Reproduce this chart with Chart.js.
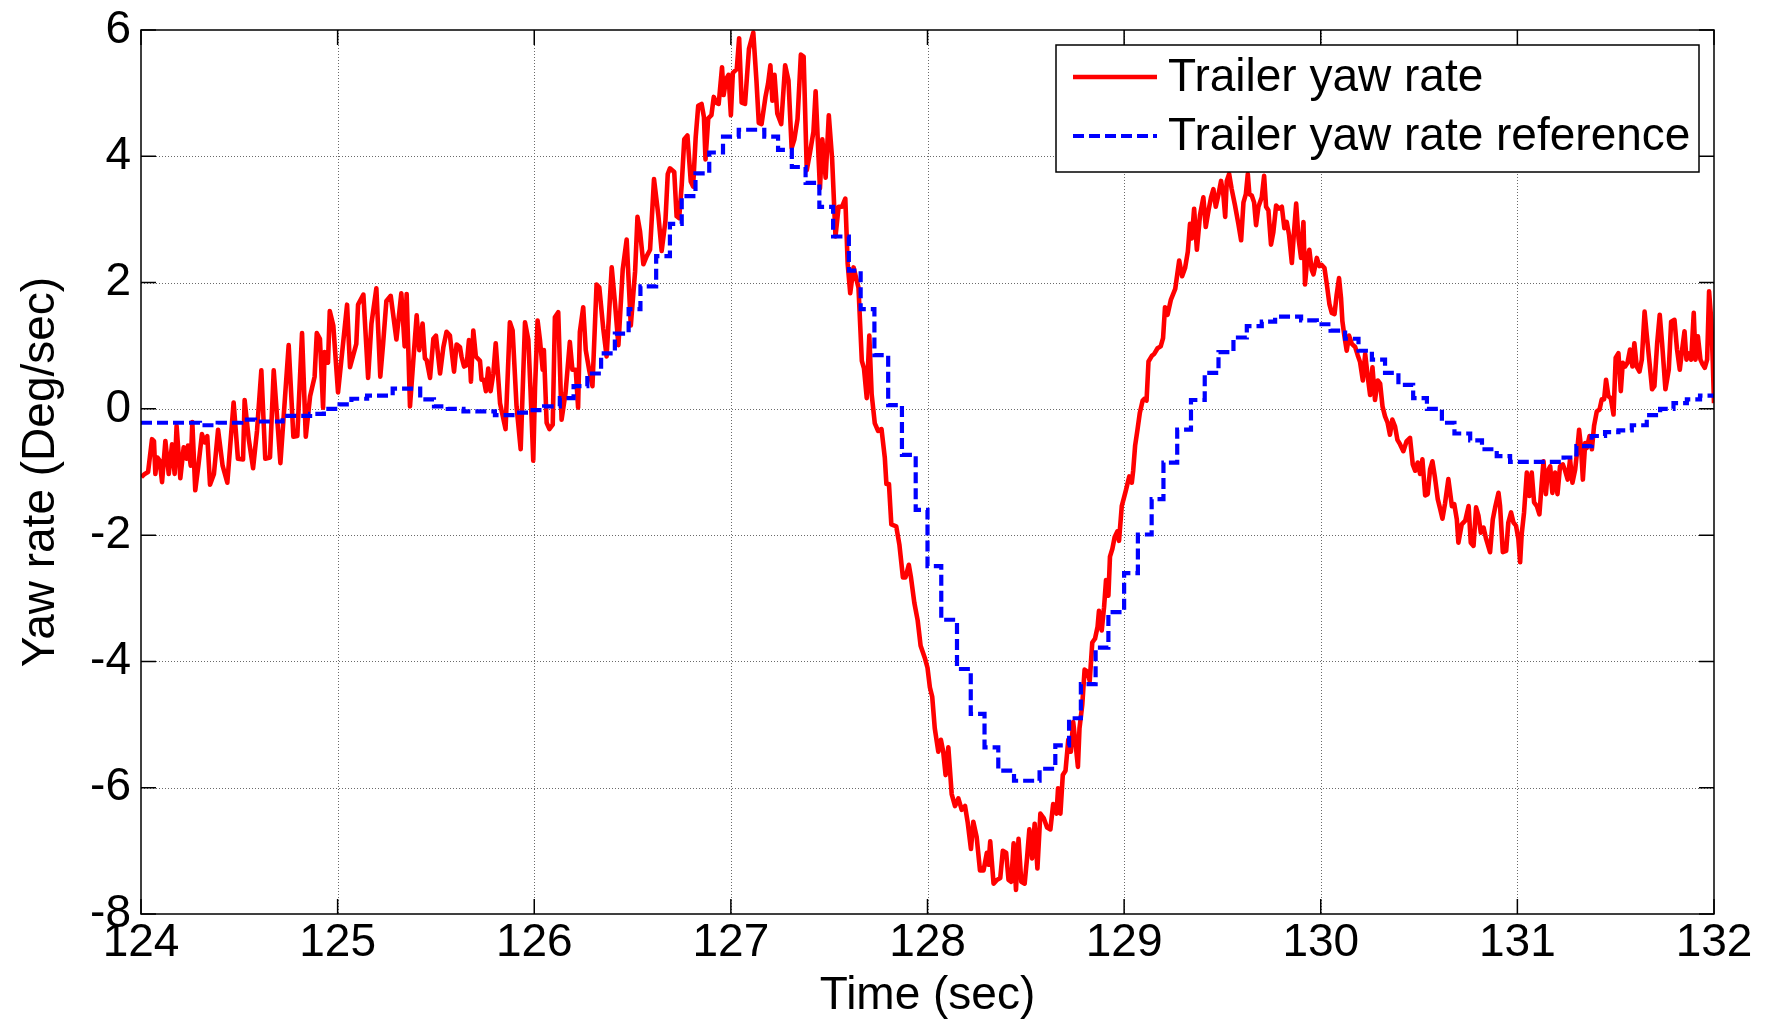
<!DOCTYPE html>
<html>
<head>
<meta charset="utf-8">
<title>Trailer yaw rate</title>
<script src="https://cdn.jsdelivr.net/npm/chart.js@4.4.1/dist/chart.umd.min.js"></script>
<style>
  html, body { margin: 0; padding: 0; background: #ffffff; }
  #wrap { position: relative; width: 1767px; height: 1021px; }
</style>
</head>
<body>
<div id="wrap"><canvas id="yaw" width="1767" height="1021"></canvas></div>
<script>
// Measured trailer yaw rate (deg/s) against time (s)
const redTime = [
  124.002,124.019,124.036,124.056,124.066,124.073,124.083,124.095,124.107,124.124,124.141,124.158,124.171,124.181,124.200,124.217,124.231,124.239,124.253,124.261,
  124.276,124.293,124.310,124.324,124.337,124.351,124.371,124.392,124.415,124.439,124.471,124.493,124.519,124.527,124.548,124.570,124.590,124.612,124.632,124.656,
  124.675,124.709,124.751,124.775,124.795,124.819,124.838,124.860,124.883,124.894,124.910,124.926,124.934,124.951,124.960,124.978,125.002,125.048,125.063,125.095,
  125.104,125.131,125.155,125.172,125.197,125.217,125.231,125.248,125.270,125.299,125.324,125.341,125.351,
  125.368,125.385,125.402,125.415,125.432,125.444,125.453,125.470,125.487,125.500,125.521,125.538,125.554,125.571,125.592,125.605,125.622,125.630,125.643,125.656,
  125.668,125.678,125.690,125.703,125.724,125.732,125.744,125.754,125.766,125.778,125.792,125.804,125.826,125.854,125.876,125.890,125.910,125.931,125.953,125.970,
  125.981,125.995,126.004,126.017,126.029,126.043,126.049,126.063,126.077,126.094,126.105,126.122,126.139,126.159,126.181,126.194,126.211,126.223,126.232,126.249,
  126.262,126.279,126.296,126.317,126.331,126.351,126.368,126.394,126.411,126.428,126.450,126.470,126.491,126.513,126.525,126.538,126.555,126.572,126.589,126.609,
  126.631,126.648,
  126.667,126.679,126.690,126.712,126.724,126.737,126.750,126.763,126.779,126.796,126.808,126.821,126.834,126.851,126.863,126.871,126.885,126.901,126.913,126.925,
  126.938,126.955,126.963,126.977,126.988,127.000,127.010,127.030,127.042,127.055,127.072,127.092,127.114,127.130,127.142,127.156,127.176,127.189,127.201,127.211,
  127.222,127.236,127.256,127.276,127.293,127.309,127.323,127.339,127.356,127.370,127.386,127.403,127.420,127.431,127.453,127.465,127.482,127.498,127.515,127.532,
  127.548,127.565,127.582,127.594,127.607,127.624,127.649,127.666,127.677,127.691,127.704,127.716,127.732,127.749,127.766,127.783,127.791,127.804,127.816,127.841,
  127.857,127.875,127.888,127.905,127.916,127.933,127.950,127.965,
  127.986,128.000,128.012,128.024,128.037,128.055,128.068,128.080,128.092,128.106,128.123,128.140,128.157,128.174,128.191,128.204,128.221,128.233,128.250,128.267,
  128.285,128.302,128.310,128.319,128.336,128.353,128.370,128.383,128.400,128.412,128.426,128.438,128.450,128.463,128.477,128.494,128.506,128.518,128.532,128.545,
  128.559,128.574,128.591,128.608,128.625,128.639,128.656,128.664,128.676,128.688,128.702,128.716,128.729,128.741,128.753,128.765,128.773,128.787,128.799,128.813,
  128.825,128.838,128.852,128.865,128.872,128.886,128.898,128.908,128.920,128.928,128.940,128.952,128.966,128.974,128.988,129.009,129.026,129.039,129.046,129.056,
  129.068,129.080,129.094,129.104,129.114,129.124,129.141,129.153,129.170,129.186,129.198,129.208,129.221,129.238,129.260,129.280,129.295,
  129.310,129.324,129.335,129.344,129.356,129.370,129.386,129.403,129.415,129.429,129.442,129.454,129.466,129.480,129.493,129.505,129.514,129.522,129.534,129.547,
  129.564,129.581,129.595,129.607,129.619,129.629,129.637,129.649,129.661,129.671,129.683,129.700,129.712,129.722,129.734,129.747,129.759,129.773,129.788,129.802,
  129.815,129.827,129.839,129.853,129.864,129.875,129.887,129.900,129.912,129.920,129.932,129.942,129.954,129.963,129.980,129.993,130.005,130.019,130.031,130.044,
  130.056,130.070,130.081,130.093,130.103,130.110,130.120,130.132,130.144,130.158,130.175,130.188,130.200,130.214,130.226,130.239,130.251,130.263,130.276,130.290,
  130.302,130.314,130.327,130.340,130.352,130.364,130.378,130.390,130.403,130.420,130.437,130.454,130.468,130.480,130.493,130.505,130.517,130.531,130.544,130.556,
  130.568,130.581,130.595,130.607,130.619,130.632,130.649,
  130.667,130.679,130.692,130.700,130.717,130.735,130.752,130.763,130.777,130.790,130.802,130.814,130.828,130.841,130.861,130.875,130.887,130.904,130.912,130.926,
  130.943,130.954,130.968,130.980,130.993,131.005,131.014,131.022,131.034,131.048,131.061,131.073,131.085,131.099,131.112,131.124,131.133,131.145,131.155,131.167,
  131.178,131.192,131.204,131.217,131.231,131.243,131.256,131.268,131.280,131.294,131.305,131.314,131.324,131.333,131.345,131.353,131.367,131.379,131.390,131.404,
  131.418,131.429,131.441,131.451,131.463,131.475,131.489,131.500,131.514,131.526,131.536,131.548,131.560,131.573,131.585,131.595,131.607,131.621,131.633,131.647,
  131.658,131.672,131.685,131.697,131.711,131.724,131.736,131.753,131.770,131.782,131.799,131.812,131.826,131.838,131.850,131.860,131.872,131.884,131.897,131.906,
  131.918,131.931,131.943,131.953,131.965,131.975,131.986,131.994,132.000
];
const redRate = [
  -1.08,-1.03,-1.00,-0.48,-0.51,-1.03,-0.77,-0.82,-1.16,-0.51,-1.03,-0.56,-1.03,-0.27,-1.10,-0.61,-0.79,-0.58,-0.90,-0.21,
  -1.29,-0.87,-0.40,-0.53,-0.43,-1.20,-1.03,-0.33,-0.90,-1.17,0.10,-0.79,-0.80,0.14,-0.48,-0.94,-0.35,0.61,-0.79,-0.77,
  0.61,-0.86,1.01,-0.44,-0.43,1.20,-0.44,0.20,0.51,1.20,1.11,0.02,0.90,0.73,1.55,1.32,0.26,1.65,0.66,1.03,
  1.65,1.81,0.49,1.35,1.91,0.51,1.02,1.71,1.79,1.10,1.83,0.99,1.82,
  0.04,0.77,1.48,0.93,1.35,0.80,0.77,0.49,1.11,1.16,0.56,0.98,1.22,1.16,0.59,1.02,0.98,0.83,0.67,0.69,
  1.09,0.43,1.24,0.83,0.76,0.46,0.46,0.28,0.64,0.28,0.56,1.04,0.09,-0.32,1.37,1.24,0.04,-0.64,1.37,1.09,
  0.30,-0.82,0.33,1.40,1.09,0.62,0.93,-0.22,-0.32,-0.25,1.45,1.53,-0.17,0.25,1.06,0.62,0.62,0.02,1.22,1.61,
  0.93,0.62,0.36,1.97,1.92,1.27,0.83,2.24,1.66,1.01,2.21,2.68,1.32,2.18,3.04,2.81,2.29,2.42,2.52,3.64,
  3.07,2.50,
  2.97,3.72,3.81,3.75,3.05,3.02,3.55,4.27,4.33,3.60,3.52,4.30,4.80,4.83,4.62,3.95,4.60,4.65,4.94,4.85,
  4.83,5.41,4.97,5.23,5.29,4.65,5.32,5.38,5.87,4.85,4.83,5.70,5.96,5.20,4.53,4.51,4.94,5.15,5.44,4.88,
  5.29,4.68,4.51,5.44,5.20,4.13,4.27,4.59,5.61,5.58,3.78,4.07,4.39,5.03,3.49,4.27,3.66,4.65,3.95,2.73,
  3.20,3.20,3.33,2.30,1.83,2.24,1.92,0.76,0.64,0.17,1.16,0.23,-0.23,-0.35,-0.32,-0.78,-1.19,-1.19,-1.83,-1.86,
  -2.15,-2.67,-2.67,-2.47,-2.67,-3.07,-3.35,-3.75,
  -3.94,-4.10,-4.41,-4.56,-5.06,-5.43,-5.24,-5.43,-5.80,-5.36,-6.10,-6.29,-6.17,-6.35,-6.29,-6.54,-6.97,-6.54,-6.78,-7.31,
  -7.31,-7.03,-7.22,-6.85,-7.52,-7.46,-7.43,-7.00,-7.03,-7.46,-7.49,-6.88,-7.62,-6.81,-7.49,-7.52,-7.12,-6.66,-7.12,-6.57,
  -7.28,-6.41,-6.48,-6.63,-6.66,-6.26,-6.41,-6.01,-6.41,-5.80,-5.73,-5.24,-5.43,-4.96,-5.30,-5.67,-5.06,-4.69,-4.13,-4.16,
  -4.31,-3.70,-3.64,-3.45,-3.20,-3.51,-3.14,-2.71,-2.96,-2.34,-2.22,-2.03,-1.94,-2.09,-1.54,-1.29,-1.07,-1.17,-0.98,-0.58,
  -0.33,-0.06,0.13,0.16,0.13,0.75,0.84,0.87,0.96,0.99,1.12,1.61,1.49,1.73,1.90,2.35,2.10,
  2.23,2.49,2.93,2.70,3.17,2.52,3.07,3.35,2.88,3.14,3.35,3.48,3.20,3.40,3.61,3.38,3.04,3.61,3.72,3.48,
  3.22,2.93,2.67,3.27,3.40,3.72,3.40,3.38,3.27,2.91,3.20,3.35,3.69,3.20,3.14,2.60,2.80,3.22,3.17,3.20,
  2.86,2.96,2.75,2.31,2.80,3.25,2.70,2.39,2.96,1.97,2.39,2.52,2.20,2.13,2.39,2.26,2.28,2.23,1.97,1.66,
  1.52,1.50,1.81,2.07,1.76,1.39,1.16,0.92,1.16,1.03,0.98,0.85,0.74,0.45,0.87,0.51,0.22,0.66,0.14,0.45,
  0.40,0.04,-0.12,-0.22,-0.41,-0.17,-0.28,-0.49,-0.56,-0.67,-0.51,-0.46,-0.88,-0.98,-0.85,-1.03,-0.80,-1.37,-1.35,-0.96,
  -0.83,-1.09,-1.43,-1.58,-1.74,-1.50,-1.11,
  -1.54,-1.51,-1.75,-2.12,-1.83,-1.77,-1.54,-2.12,-2.17,-1.56,-1.69,-1.96,-1.88,-2.06,-2.27,-1.75,-1.56,-1.33,-1.54,-2.27,
  -2.25,-1.80,-1.64,-1.80,-1.85,-2.06,-2.43,-1.98,-1.64,-1.01,-1.38,-1.01,-1.48,-1.54,-1.67,-1.17,-0.83,-1.35,-0.98,-0.91,
  -1.33,-1.01,-1.35,-0.91,-0.88,-0.98,-1.12,-0.80,-1.17,-0.96,-0.64,-0.33,-0.62,-1.12,-0.54,-0.62,-0.43,-0.64,-0.27,-0.04,
  -0.01,0.15,0.15,0.46,0.20,0.17,-0.09,0.81,0.88,0.28,0.73,0.67,0.73,0.94,0.67,1.04,0.67,0.59,0.78,1.54,
  1.17,0.73,0.31,0.36,1.04,1.49,1.04,0.31,0.62,1.38,1.41,0.94,0.62,0.94,1.23,0.78,0.88,0.78,1.52,0.78,
  1.15,0.78,0.70,0.65,0.78,1.86,1.41,0.73,0.09
];

// Reference yaw rate, held constant from each listed time until the next one
const refTime = [
  124.00,124.30,124.39,124.51,124.58,124.72,124.86,124.93,125.01,125.07,125.15,125.28,125.42,125.49,125.56,125.64,125.80,125.90,125.98,126.05,
  126.13,126.20,126.27,126.34,126.41,126.48,126.54,126.62,126.69,126.75,126.82,126.89,126.96,127.04,127.17,127.24,127.31,127.38,127.45,127.52,
  127.60,127.66,127.73,127.80,127.87,127.94,128.00,128.07,128.15,128.22,128.29,128.36,128.44,128.57,128.65,128.72,128.78,128.855,128.92,129.00,
  129.07,129.14,129.20,129.27,129.34,129.41,129.48,129.556,129.624,129.70,129.768,129.90,129.98,130.05,130.124,130.192,130.26,130.327,130.395,130.47,
  130.54,130.616,130.68,130.76,130.82,130.895,130.963,131.235,131.30,131.378,131.446,131.514,131.582,131.658,131.726,131.794,131.862,131.929,132.00
];
const refRate = [
  -0.22,-0.26,-0.22,-0.17,-0.20,-0.11,-0.08,0.00,0.07,0.16,0.21,0.32,0.15,0.04,0.00,-0.04,-0.10,-0.06,-0.02,0.04,
  0.17,0.36,0.56,0.88,1.19,1.58,1.94,2.42,2.93,3.37,3.73,4.06,4.31,4.42,4.31,4.10,3.83,3.58,3.20,2.73,
  2.19,1.58,0.85,0.06,-0.73,-1.60,-2.49,-3.34,-4.12,-4.83,-5.36,-5.73,-5.89,-5.70,-5.33,-4.90,-4.36,-3.78,-3.22,-2.60,
  -1.99,-1.43,-0.85,-0.33,0.14,0.57,0.90,1.13,1.31,1.38,1.46,1.40,1.34,1.24,1.11,0.92,0.78,0.57,0.38,0.17,
  0.00,-0.22,-0.39,-0.50,-0.64,-0.75,-0.84,-0.77,-0.59,-0.43,-0.37,-0.34,-0.26,-0.10,0.00,0.09,0.15,0.21,0.21
];

// Axis ranges and tick spacing
const timeRange = [124, 132];
const timeStep = 1;
const rateRange = [-8, 6];
const rateStep = 2;

const seriesLabels = ['Trailer yaw rate', 'Trailer yaw rate reference'];
const xTitle = 'Time (sec)';
const yTitle = 'Yaw rate (Deg/sec)';

const FONT_FAMILY = "'Liberation Sans', Arial, Helvetica, sans-serif";
const FONT_SIZE = 46;

const toPoints = (xs, ys) => xs.map((v, i) => ({ x: v, y: ys[i] }));

// Dotted grid under the data, box with inward ticks on top, legend box in the corner
const framePlugin = {
  id: 'framePlugin',
  beforeDatasetsDraw(chart) {
    const { ctx, chartArea: a, scales: { x, y } } = chart;
    ctx.save();
    ctx.strokeStyle = '#6a6a6a';
    ctx.lineWidth = 1;
    ctx.setLineDash([1, 2]);
    x.ticks.forEach(t => {
      if (t.value <= x.min || t.value >= x.max) return;
      const px = Math.round(x.getPixelForValue(t.value)) + 0.5;
      ctx.beginPath(); ctx.moveTo(px, a.top); ctx.lineTo(px, a.bottom); ctx.stroke();
    });
    y.ticks.forEach(t => {
      if (t.value <= y.min || t.value >= y.max) return;
      const py = Math.round(y.getPixelForValue(t.value)) + 0.5;
      ctx.beginPath(); ctx.moveTo(a.left, py); ctx.lineTo(a.right, py); ctx.stroke();
    });
    ctx.restore();
  },
  afterDatasetsDraw(chart) {
    const { ctx, chartArea: a, scales: { x, y } } = chart;
    const len = 15;
    ctx.save();
    ctx.strokeStyle = '#000000';
    ctx.lineWidth = 1.5;
    ctx.setLineDash([]);
    ctx.strokeRect(a.left, a.top, a.right - a.left, a.bottom - a.top);
    ctx.beginPath();
    x.ticks.forEach(t => {
      const px = x.getPixelForValue(t.value);
      ctx.moveTo(px, a.bottom); ctx.lineTo(px, a.bottom - len);
      ctx.moveTo(px, a.top); ctx.lineTo(px, a.top + len);
    });
    y.ticks.forEach(t => {
      const py = y.getPixelForValue(t.value);
      ctx.moveTo(a.left, py); ctx.lineTo(a.left + len, py);
      ctx.moveTo(a.right, py); ctx.lineTo(a.right - len, py);
    });
    ctx.stroke();
    ctx.restore();
  },
  afterDraw(chart) {
    const { ctx } = chart;
    const box = { left: 1056, top: 45, right: 1699, bottom: 172 };
    const rows = [77, 136];
    ctx.save();
    ctx.fillStyle = '#ffffff';
    ctx.fillRect(box.left, box.top, box.right - box.left, box.bottom - box.top);
    ctx.strokeStyle = '#000000';
    ctx.lineWidth = 1.5;
    ctx.strokeRect(box.left, box.top, box.right - box.left, box.bottom - box.top);
    [0, 1].forEach((di, r) => {
      const ds = chart.data.datasets[di];
      const yy = rows[r];
      ctx.beginPath();
      ctx.strokeStyle = ds.borderColor;
      ctx.lineWidth = ds.borderWidth;
      ctx.setLineDash(ds.borderDash || []);
      ctx.moveTo(1073, yy);
      ctx.lineTo(1157, yy);
      ctx.stroke();
      ctx.setLineDash([]);
      ctx.fillStyle = '#000000';
      ctx.font = FONT_SIZE + 'px ' + FONT_FAMILY;
      ctx.textAlign = 'left';
      ctx.textBaseline = 'middle';
      ctx.fillText(ds.label, 1168, yy + 1.5);
    });
    ctx.restore();
  }
};

const tickFont = { family: FONT_FAMILY, size: FONT_SIZE };

new Chart(document.getElementById('yaw'), {
  type: 'line',
  data: {
    datasets: [
      {
        label: seriesLabels[0],
        data: toPoints(redTime, redRate),
        borderColor: '#ff0000',
        borderWidth: 4.6,
        pointRadius: 0,
        tension: 0,
        borderJoinStyle: 'round',
        order: 2
      },
      {
        label: seriesLabels[1],
        data: toPoints(refTime, refRate),
        borderColor: '#0000ff',
        borderWidth: 4.2,
        borderDash: [11, 5],
        pointRadius: 0,
        stepped: true,
        order: 1
      }
    ]
  },
  options: {
    responsive: false,
    animation: false,
    devicePixelRatio: 1,
    layout: { padding: { top: 30, right: 53, left: 0, bottom: 0 } },
    plugins: { legend: { display: false }, tooltip: { enabled: false } },
    scales: {
      x: {
        type: 'linear',
        min: timeRange[0],
        max: timeRange[1],
        ticks: { stepSize: timeStep, color: '#000000', font: tickFont, padding: 2, maxRotation: 0, autoSkip: false },
        grid: { display: false, drawTicks: false },
        border: { display: false },
        title: { display: true, text: xTitle, color: '#000000', font: tickFont, padding: { top: 0, bottom: -3 } },
        afterFit: s => { s.height = 107; s.paddingLeft = 0; s.paddingRight = 0; }
      },
      y: {
        type: 'linear',
        min: rateRange[0],
        max: rateRange[1],
        ticks: { stepSize: rateStep, color: '#000000', font: tickFont, padding: 10 },
        grid: { display: false, drawTicks: false },
        border: { display: false },
        title: { display: true, text: yTitle, color: '#000000', font: tickFont, padding: { top: 14, bottom: 0 } },
        afterFit: s => { s.width = 141; s.paddingTop = 0; s.paddingBottom = 0; }
      }
    }
  },
  plugins: [framePlugin]
});
</script>
</body>
</html>
